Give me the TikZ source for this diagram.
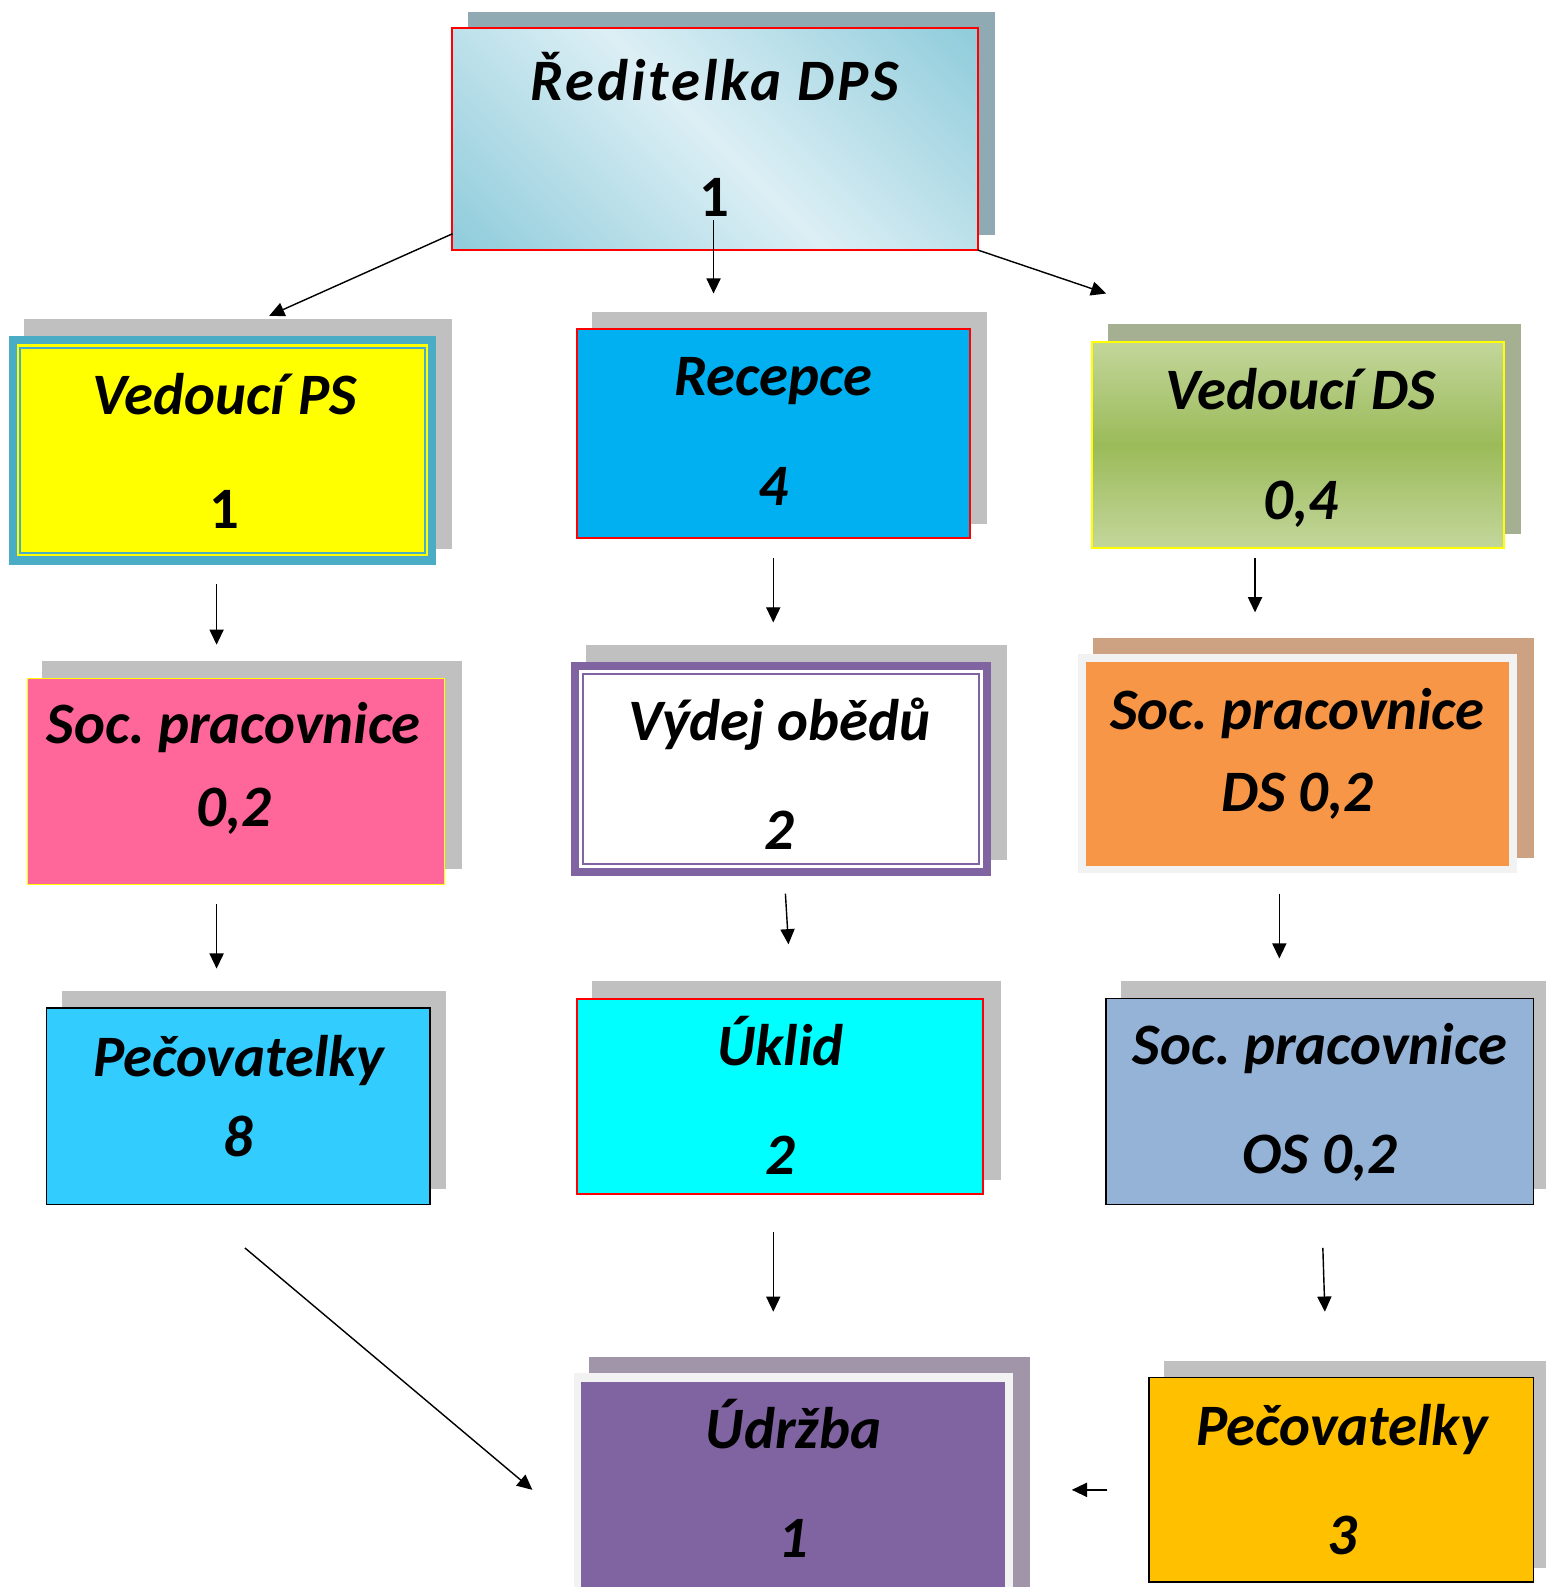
\documentclass[tikz,border=0pt]{standalone}
\usepackage{fontspec}
\setmainfont{Carlito}
\usetikzlibrary{arrows.meta,fit}
\definecolor{rdk}{HTML}{92CDDC}
\definecolor{rlt}{HTML}{DCEFF5}
\definecolor{topsh}{HTML}{8FAAB3}
\definecolor{shgray}{HTML}{C0C0C0}
\definecolor{pscyan}{HTML}{4BACC6}
\definecolor{yel}{HTML}{FFFF00}
\definecolor{recblue}{HTML}{00B0F0}
\definecolor{dslt}{HTML}{C3D69B}
\definecolor{dsdk}{HTML}{9BBB59}
\definecolor{dssh}{HTML}{A5AF92}
\definecolor{pinkbox}{HTML}{FF6699}
\definecolor{purp}{HTML}{8064A2}
\definecolor{orbox}{HTML}{F79646}
\definecolor{orsh}{HTML}{CDA283}
\definecolor{frame}{HTML}{F2F2F2}
\definecolor{pecblue}{HTML}{33CCFF}
\definecolor{uklid}{HTML}{00FFFF}
\definecolor{osblue}{HTML}{95B3D7}
\definecolor{udsh}{HTML}{A095A9}
\definecolor{gold}{HTML}{FFC000}
\definecolor{redb}{HTML}{FF0000}
\pgfdeclarehorizontalshading{diagblue}{100bp}{color(0bp)=(rdk); color(16bp)=(rdk); color(50bp)=(rlt); color(84bp)=(rdk); color(100bp)=(rdk)}
\begin{document}
\frenchspacing
\begin{tikzpicture}[x=0.5pt,y=-0.5pt,
  box/.style={inner sep=0pt, outer sep=0pt},
  shd/.style={box, fill=shgray},
  lbl/.style={font=\fontsize{29}{34}\selectfont\bfseries\itshape\frenchspacing, anchor=base, inner sep=0pt},
  nup/.style={font=\fontsize{29}{34}\selectfont\bfseries, anchor=base, inner sep=0pt},
  conn/.style={-{Triangle[length=7.5pt,width=7pt]}, line width=0.7pt}]
\useasboundingbox (0,0) rectangle (1527,1568);
\fill[white] (0,0) rectangle (1527,1568);

% Reditelka
\node[shd, fill=topsh, fit={(462,11.5) (983,232)}] (s0) {};
\node[box, shading=diagblue, shading angle=45, draw=redb, line width=1pt, fit={(447,28) (966,247)}] (dir) {};
\node[lbl] (dirt) at (706,99) {\addfontfeature{LetterSpace=5}Ředitelka DPS};
\node[nup] (dirn) at (706,214) {1};

% Vedouci PS
\node[shd, fit={(24,315) (447,542.5)}] (s1) {};
\node[box, fill=pscyan, fit={(8.5,332) (431,558)}] (vps) {};
\node[box, fill=yel, fit={(16.7,340.2) (422.8,549.8)}] (vpsi) {};
\node[box, draw=pscyan, line width=1pt, fit={(20,343.5) (419.5,546.5)}] (vpsl) {};
\node[lbl] (vpst) at (222,410) {Vedoucí PS};
\node[nup] (vpsn) at (222,522) {1};

% Recepce
\node[shd, fit={(585,308) (975,518)}] (s2) {};
\node[box, fill=recblue, draw=redb, line width=1pt, fit={(570,325) (958,532)}] (rec) {};
\node[lbl] (rect) at (764,391) {Recepce};
\node[lbl] (recn) at (764,499) {4};

% Vedouci DS
\node[shd, fill=dssh, fit={(1094.7,320) (1503,527.6)}] (s3) {};
\node[box, top color=dslt, bottom color=dslt, middle color=dsdk, draw=yel, line width=1pt, fit={(1078.6,337.5) (1485.6,541)}] (vds) {};
\node[lbl] (vdst) at (1285,405) {Vedoucí DS};
\node[lbl] (vdsn) at (1285,513) {0,4};

% Soc. pracovnice 0,2
\node[shd, fit={(41.8,653.5) (456,859)}] (s4) {};
\node[box, fill=pinkbox, draw=yel, line width=0.6pt, fit={(27,670) (439,874)}] (soc1) {};
\node[lbl] (soc1t) at (231,735) {Soc. pracovnice};
\node[lbl] (soc1n) at (231,817) {0,2};

% Vydej obedu
\node[shd, fit={(578.8,637) (994.6,849.4)}] (s5) {};
\node[box, fill=purp, fit={(563.7,653.6) (979.5,865.9)}] (vyd) {};
\node[box, fill=white, fit={(572.3,662.2) (970.9,857.3)}] (vydi) {};
\node[box, draw=purp, line width=1pt, fit={(576.2,666.1) (967,853.4)}] (vydl) {};
\node[lbl] (vydt) at (770,732) {Výdej obědů};
\node[lbl] (vydn) at (770,839) {2};

% Soc. pracovnice DS
\node[shd, fill=orsh, fit={(1079.7,630) (1516,847.5)}] (s6) {};
\node[box, fill=frame, fit={(1065,646) (1499,863)}] (socds) {};
\node[box, fill=orbox, fit={(1072.6,654.5) (1491.4,856)}] (socdsi) {};
\node[lbl] (socdst) at (1282,721) {Soc. pracovnice};
\node[lbl] (socdsn) at (1282,802) {DS 0,2};

% Pecovatelky 8
\node[shd, fit={(61.6,979.5) (441,1175)}] (s7) {};
\node[box, fill=pecblue, draw=black, line width=0.8pt, fit={(46,996) (424.7,1190)}] (pec8) {};
\node[lbl] (pec8t) at (236,1064) {Pečovatelky};
\node[lbl] (pec8n) at (236,1143) {8};

% Uklid
\node[shd, fit={(585,969) (989,1166)}] (s8) {};
\node[box, fill=uklid, draw=redb, line width=1pt, fit={(570,987) (971,1180)}] (ukl) {};
\node[lbl] (uklt) at (771,1053) {Úklid};
\node[lbl] (ukln) at (771,1160) {2};

% Soc. pracovnice OS
\node[shd, fit={(1108,969.6) (1540,1175)}] (s9) {};
\node[box, fill=osblue, draw=black, line width=0.8pt, fit={(1093,986.7) (1515,1190)}] (socos) {};
\node[lbl] (socost) at (1304,1052) {Soc. pracovnice};
\node[lbl] (socosn) at (1304,1159) {OS 0,2};

% Udrzba
\node[shd, fill=udsh, fit={(581.8,1341) (1018,1580)}] (s10) {};
\node[box, fill=frame, fit={(567,1357) (1000.7,1580)}] (udr) {};
\node[box, fill=purp, fit={(574.5,1365) (993,1580)}] (udri) {};
\node[lbl] (udrt) at (784,1431) {Údržba};
\node[lbl] (udrn) at (784,1538.5) {1};

% Pecovatelky 3
\node[shd, fit={(1150,1345) (1540,1549)}] (s11) {};
\node[box, fill=gold, draw=black, line width=0.8pt, fit={(1135,1361) (1515,1563)}] (pec3) {};
\node[lbl] (pec3t) at (1326,1428) {Pečovatelky};
\node[lbl] (pec3n) at (1326,1536) {3};

% connector ends
\coordinate (a1s) at (447,231);  \coordinate (a1e) at (266,312);
\coordinate (a2s) at (705,217);  \coordinate (a2e) at (705,290);
\coordinate (a3s) at (966,247);  \coordinate (a3e) at (1093,290);
\coordinate (a4s) at (214,577);  \coordinate (a4e) at (214,637);
\coordinate (a5s) at (764,551);  \coordinate (a5e) at (764,615);
\coordinate (a6s) at (1240,551); \coordinate (a6e) at (1240,605);
\coordinate (a7s) at (214,893);  \coordinate (a7e) at (214,957);
\coordinate (a8s) at (776,883);  \coordinate (a8e) at (779,933);
\coordinate (a9s) at (1264,883); \coordinate (a9e) at (1264,947);
\coordinate (a10s) at (242,1233); \coordinate (a10e) at (526,1472);
\coordinate (a11s) at (764,1217); \coordinate (a11e) at (764,1296);
\coordinate (a12s) at (1307,1233); \coordinate (a12e) at (1309,1296);
\coordinate (a13s) at (1094,1472); \coordinate (a13e) at (1059,1472);

\draw[conn] (a1s) -- (a1e);
\draw[conn] (a2s) -- (a2e);
\draw[conn] (a3s) -- (a3e);
\draw[conn] (a4s) -- (a4e);
\draw[conn] (a5s) -- (a5e);
\draw[conn] (a6s) -- (a6e);
\draw[conn] (a7s) -- (a7e);
\draw[conn] (a8s) -- (a8e);
\draw[conn] (a9s) -- (a9e);
\draw[conn] (a10s) -- (a10e);
\draw[conn] (a11s) -- (a11e);
\draw[conn] (a12s) -- (a12e);
\draw[conn] (a13s) -- (a13e);
\end{tikzpicture}
\end{document}
